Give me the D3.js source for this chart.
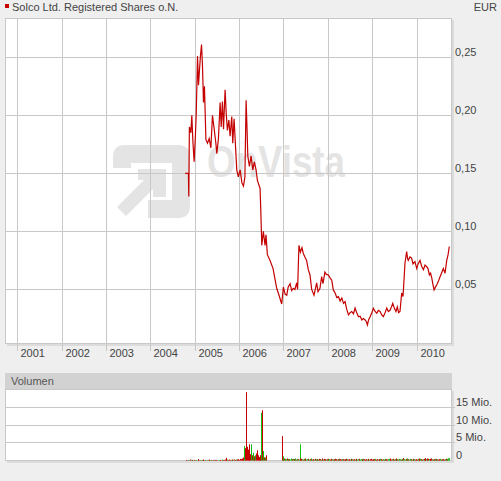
<!DOCTYPE html>
<html><head><meta charset="utf-8">
<script src="https://cdn.jsdelivr.net/npm/d3@7"></script>
<style>
body{margin:0;background:#efefef;}
svg text{font-family:"Liberation Sans",Arial,sans-serif;}
</style>
</head><body>
<svg id="c" width="501" height="481"></svg>
<script>
const title = "Solco Ltd. Registered Shares o.N.";
const currency = "EUR";
const volumeTitle = "Volumen";
const watermark = "OnVista";
const yearTicks = ["2001","2002","2003","2004","2005","2006","2007","2008","2009","2010"];
const priceTicks = [0.05, 0.10, 0.15, 0.20, 0.25];
const volTicks = [0, 5, 10, 15]; // Mio.

const priceDates = [
"2004-10-14","2004-11-10","2004-11-13","2004-11-18","2004-11-30","2004-12-08","2004-12-16","2004-12-27",
"2005-01-05","2005-01-13","2005-01-24","2005-02-01","2005-02-09","2005-02-17","2005-02-26","2005-03-06",
"2005-03-14","2005-03-22","2005-04-03","2005-04-16","2005-04-30","2005-05-14","2005-05-27","2005-06-08",
"2005-06-24","2005-07-02","2005-07-15","2005-07-29","2005-08-07","2005-08-17","2005-08-26","2005-09-08",
"2005-09-17","2005-09-27","2005-10-09","2005-10-19","2005-11-02","2005-11-10","2005-11-21","2005-12-02",
"2005-12-13","2005-12-26","2006-01-10","2006-01-24","2006-02-06","2006-02-18","2006-02-28","2006-03-08",
"2006-03-14","2006-03-27","2006-04-10","2006-04-24","2006-05-07","2006-05-21","2006-06-01","2006-06-23",
"2006-06-29","2006-07-07","2006-07-20","2006-08-03","2006-08-11","2006-08-22","2006-09-13","2006-10-08",
"2006-11-07","2006-11-26","2006-12-18","2007-01-01","2007-01-15","2007-01-29","2007-02-09","2007-02-25",
"2007-03-10","2007-03-23","2007-04-06","2007-04-20","2007-04-28","2007-05-09","2007-05-21","2007-06-03",
"2007-06-14","2007-06-27","2007-07-11","2007-07-25","2007-08-08","2007-08-22","2007-09-10","2007-10-02",
"2007-10-13","2007-10-29","2007-11-12","2007-11-23","2007-12-09","2007-12-21","2008-01-06","2008-01-20",
"2008-02-03","2008-02-16","2008-03-02","2008-03-16","2008-03-29","2008-04-12","2008-04-26","2008-05-10",
"2008-05-23","2008-06-05","2008-06-20","2008-07-03","2008-07-17","2008-07-31","2008-08-13","2008-08-27",
"2008-09-10","2008-09-24","2008-10-08","2008-10-21","2008-11-04","2008-11-15","2008-11-23","2008-12-03",
"2008-12-15","2008-12-29","2009-01-11","2009-01-25","2009-02-08","2009-02-21","2009-03-07","2009-03-21",
"2009-04-03","2009-04-17","2009-05-01","2009-05-14","2009-05-28","2009-06-09","2009-06-19","2009-07-02",
"2009-07-16","2009-07-27","2009-08-07","2009-08-18","2009-09-01","2009-09-12","2009-09-20","2009-09-28",
"2009-10-12","2009-10-19","2009-10-25","2009-11-08","2009-11-22","2009-12-03","2009-12-19","2010-01-03",
"2010-01-14","2010-01-30","2010-02-12","2010-02-27","2010-03-12","2010-03-26","2010-04-06","2010-04-17",
"2010-04-27","2010-05-07","2010-05-17","2010-05-26","2010-06-06","2010-06-17","2010-06-30","2010-07-14",
"2010-07-26","2010-08-10","2010-08-24","2010-09-07","2010-09-18","2010-09-28"
];
const priceValues = [
0.150,0.150,0.130,0.190,0.185,0.200,0.179,0.160,
0.179,0.200,0.251,0.226,0.239,0.251,0.261,0.242,
0.211,0.225,0.179,0.176,0.180,0.172,0.200,0.190,
0.176,0.167,0.180,0.211,0.190,0.212,0.188,0.222,
0.202,0.187,0.196,0.182,0.199,0.176,0.197,0.175,
0.153,0.147,0.153,0.142,0.139,0.147,0.213,0.187,
0.165,0.156,0.165,0.153,0.160,0.153,0.144,0.137,
0.118,0.088,0.100,0.088,0.097,0.080,0.075,0.068,
0.051,0.045,0.0375,0.052,0.046,0.045,0.052,0.055,
0.049,0.051,0.050,0.0556,0.050,0.088,0.082,0.086,
0.081,0.078,0.075,0.067,0.0625,0.050,0.045,0.0556,
0.048,0.051,0.061,0.055,0.065,0.063,0.0625,0.060,
0.058,0.0496,0.047,0.043,0.0438,0.040,0.0427,0.038,
0.0395,0.033,0.028,0.030,0.031,0.029,0.034,0.030,
0.0265,0.027,0.0237,0.025,0.0237,0.022,0.0194,0.024,
0.0265,0.030,0.0338,0.031,0.0295,0.032,0.031,0.028,
0.0265,0.030,0.034,0.031,0.032,0.035,0.038,0.034,
0.031,0.035,0.030,0.031,0.047,0.044,0.058,0.0726,
0.0826,0.077,0.075,0.078,0.077,0.072,0.074,0.068,
0.072,0.075,0.070,0.067,0.071,0.0696,0.068,0.0625,
0.064,0.0597,0.054,0.0496,0.052,0.054,0.057,0.061,
0.064,0.068,0.064,0.075,0.080,0.087
];

// weekly turnover, in Mio. shares, from the first week below
const volStart = "2004-10-29";
const volValues = [
0.2,0.1,0.2,0.1,0.3,0.2,0.1,0.2,0.1,0.2,0.1,0.2,0.1,0.4,0.2,0.1,0.2,0.1,0.2,0.3,
0.2,0.1,0.2,0.1,0.1,0.2,0.1,0.3,0.1,0.2,0.1,0.2,0.1,0.2,0.1,0.2,0.1,0.1,0.2,0.1,
0.2,0.1,0.3,0.2,0.2,0.3,0.8,0.4,0.3,0.2,0.3,0.2,0.2,0.3,0.2,0.2,0.3,0.2,0.3,0.2,
0.3,0.4,0.2,0.5,0.4,0.6,0.5,0.9,
4.1,3.5,19.3,3.9,3.1,4.6,2.9,1.8,4.6,1.5,2.2,0.9,1.2,1.5,2.0,2.9,1.5,1.0,1.5,1.2,13.5,14.2,2.7,0.9,0.9,1.5,
0,0,0,0,0,0,0,0,0,0,0,0,0,0,0,0,0,0,
6.9,0.9,1.2,0.6,0.5,0.4,0.6,0.3,0.5,0.4,0.3,0.6,0.4,0.5,0.3,0.4,0.6,0.3,0.5,0.4,0.3,4.6,
0.6,0.5,0.4,0.3,0.5,0.4,0.6,0.3,0.4,0.5,0.3,0.4,0.6,0.5,0.3,0.4,0.3,0.5,0.4,0.3,
0.4,0.3,0.5,0.4,0.3,0.6,0.4,0.3,0.5,0.4,0.3,0.4,0.5,0.3,0.4,0.3,0.5,0.4,0.3,0.4,
0.3,0.5,0.4,0.3,0.4,0.5,0.3,0.4,0.3,0.5,0.4,0.3,0.4,0.3,0.5,0.4,0.3,0.4,0.3,0.4,
0.5,0.4,0.3,0.4,0.3,0.5,0.4,0.3,0.4,0.5,0.3,0.4,0.3,0.4,0.5,0.4,0.3,0.4,0.3,0.5,
0.4,0.3,0.4,0.5,0.3,0.4,0.3,0.4,0.5,0.3,0.4,0.3,0.4,0.3,0.5,0.4,0.3,0.4,0.3,0.4,
0.5,0.4,0.3,0.4,0.5,0.6,0.4,0.3,0.4,0.5,0.3,0.4,0.6,0.5,0.4,0.3,0.5,0.4,0.3,0.4,
0.5,0.7,0.4,0.3,0.5,0.4,0.6,0.4,0.3,0.5,0.4,0.3,0.4,0.5,0.4,0.3,0.4,0.3,0.5,0.4,
0.6,0.5,0.4,0.3,0.4,0.5,0.7,0.5,0.4,0.6,0.5,0.4,0.3,0.5,0.6,0.4,0.3,0.4,0.5,0.4,
0.3,0.4,0.3,0.4,0.5,0.3,0.4,0.3,0.4,0.3,0.4,0.5,0.4,0.5,0.6,0.7
];
// u = price up (green), d = price down (red)
const volDirs = [
"ddudduddud","duudddudud","ddudduddud","udddudduud","ddudddddud","ddudduddud","ddddddddud",
"ddddddudud","duddddddud","ududdddddd","dddddddddd","ddduuduudu","uduuduudud","uduuddudud",
"duududuudd","uduududdud","duddudduud","dudduddudd","uddudduddu","ddudduddud","duuduuddud",
"dduddudddu","ddudduddud","duddudduud","ddudduddud","uuduuduudd","uduuduudud","ddudduddud",
"dduddudddu","ddudduddud","duddudduuu"
].join("");

const svg = d3.select("#c");
const parse = d3.utcParse("%Y-%m-%d");
const P = {l:5, r:452, t:18, b:344};
const V = {l:5, r:452, h0:373, t:389, b:461};

const xBase = d3.scaleUtc().domain([parse("2001-01-01"), parse("2010-01-01")]).range([17.3, 416.5]);
const x = d3.scaleUtc().domain([xBase.invert(P.l), xBase.invert(P.r)]).range([P.l, P.r]);
const y = d3.scaleLinear().domain([0, 0.25]).range([347.5, 57.3]);
const yv = d3.scaleLinear().domain([0, 15]).range([460.6, 407.4]);

const price = priceDates.map((d,i) => ({date: parse(d), v: priceValues[i]}));
const vstart = parse(volStart);
const vols = volValues.map((v,i) => ({date: d3.utcDay.offset(vstart, 7*i), v, dir: volDirs[i]}));

// title
svg.append("rect").attr("x",5).attr("y",4).attr("width",4).attr("height",4).attr("fill","#c80000");
svg.append("text").attr("x",12).attr("y",10.5).attr("font-size",11).attr("fill","#444").text(title);
svg.append("text").attr("x",497).attr("y",10.5).attr("text-anchor","end").attr("font-size",11).attr("fill","#444").text(currency);

// price panel
svg.append("rect").attr("x",P.l+2).attr("y",P.t+2).attr("width",P.r-P.l).attr("height",P.b-P.t).attr("fill","#dcdcdc");
svg.append("rect").attr("x",P.l+0.5).attr("y",P.t+0.5).attr("width",P.r-P.l-1).attr("height",P.b-P.t-1)
  .attr("fill","#fff").attr("stroke","#c8c8c8");

// watermark
const wm = svg.append("g").attr("fill","#e4e4e4");
wm.append("path").attr("fill-rule","evenodd")
  .attr("d","M113,157 Q113,145 125,145 H178 Q190,145 190,157 V206 Q190,218 178,218 H148 V200 H172 V163 H131 V168 H113 Z");
wm.append("path").attr("d","M138,169 H166 V197 H153 V189 L126,216 L117,207 L144,180 H138 Z");
wm.append("text").attr("x",207).attr("y",177).attr("font-size",44).attr("font-weight","bold")
  .attr("textLength",138).attr("lengthAdjust","spacingAndGlyphs").text(watermark);

// year axis with grid
const yearDates = yearTicks.map(t => parse(t + "-01-01"));
const xAxis = d3.axisBottom(x).tickValues(yearDates).tickFormat(d3.utcFormat("%Y"))
  .tickSizeInner(-(351-P.t)).tickSizeOuter(0);
const gx = svg.append("g").attr("transform","translate(0,351)").call(xAxis);
gx.select(".domain").remove();
gx.selectAll(".tick").attr("transform", d => `translate(${Math.round(x(d))+0.5},0)`);
gx.selectAll(".tick line").attr("stroke","#c8c8c8");
gx.selectAll(".tick text").attr("x",3).attr("y",6.3).attr("dy",0).attr("text-anchor","start")
  .attr("font-size",11).attr("fill","#444").attr("font-family","Liberation Sans, Arial, sans-serif");

// price axis with grid
const yAxis = d3.axisRight(y).tickValues(priceTicks).tickFormat(d => d3.format(".2f")(d).replace(".", ","))
  .tickSizeInner(-(P.r-P.l)).tickSizeOuter(0);
const gy = svg.append("g").attr("transform",`translate(${P.r},0)`).call(yAxis);
gy.select(".domain").remove();
gy.selectAll(".tick").attr("transform", d => `translate(0,${Math.floor(y(d))+0.5})`);
gy.selectAll(".tick line").attr("stroke","#c8c8c8");
gy.selectAll(".tick text").attr("x",3).attr("y",-1.5).attr("dy",0).attr("text-anchor","start")
  .attr("font-size",11).attr("fill","#444").attr("font-family","Liberation Sans, Arial, sans-serif");

// price line
svg.append("clipPath").attr("id","pc").append("rect").attr("x",P.l+1).attr("y",P.t+1).attr("width",P.r-P.l-2).attr("height",P.b-P.t-2);
svg.append("path").datum(price).attr("clip-path","url(#pc)")
  .attr("fill","none").attr("stroke","#c40000").attr("stroke-width",1.2).attr("stroke-linejoin","miter")
  .attr("d", d3.line().x(d => x(d.date)).y(d => y(d.v)));

// volume panel
svg.append("rect").attr("x",V.l+2).attr("y",V.t+2).attr("width",V.r-V.l).attr("height",V.b-V.t).attr("fill","#dcdcdc");
svg.append("rect").attr("x",V.l).attr("y",V.h0).attr("width",V.r-V.l).attr("height",V.t-V.h0).attr("fill","#d2d2d2");
svg.append("text").attr("x",11).attr("y",385).attr("font-size",11).attr("fill","#555").text(volumeTitle);
svg.append("rect").attr("x",V.l+0.5).attr("y",V.t+0.5).attr("width",V.r-V.l-1).attr("height",V.b-V.t-1)
  .attr("fill","#fff").attr("stroke","#c8c8c8");

const vAxis = d3.axisRight(yv).tickValues(volTicks).tickFormat(d => d === 0 ? "0" : d + " Mio.")
  .tickSizeInner(-(V.r-V.l)).tickSizeOuter(0);
const gv = svg.append("g").attr("transform",`translate(${V.r+3},0)`).call(vAxis);
gv.select(".domain").remove();
gv.selectAll(".tick").attr("transform", d => `translate(0,${Math.floor(yv(d))+0.5})`);
gv.selectAll(".tick line").attr("stroke","#c8c8c8").attr("x2",-(V.r-V.l+3));
gv.selectAll(".tick").filter(d => d === 0).select("line").remove();
gv.selectAll(".tick text").attr("x",1).attr("y",-1.5).attr("dy",0).attr("text-anchor","start")
  .attr("font-size",11).attr("fill","#444").attr("font-family","Liberation Sans, Arial, sans-serif");

svg.append("g").selectAll("rect").data(vols.filter(d => d.v > 0)).join("rect")
  .attr("x", d => Math.floor(x(d.date)))
  .attr("width", 1)
  .attr("y", d => yv(d.v))
  .attr("height", d => yv(0) - yv(d.v))
  .attr("fill", d => d.dir === "u" ? "#10c010" : "#c80000");
</script>
</body></html>
